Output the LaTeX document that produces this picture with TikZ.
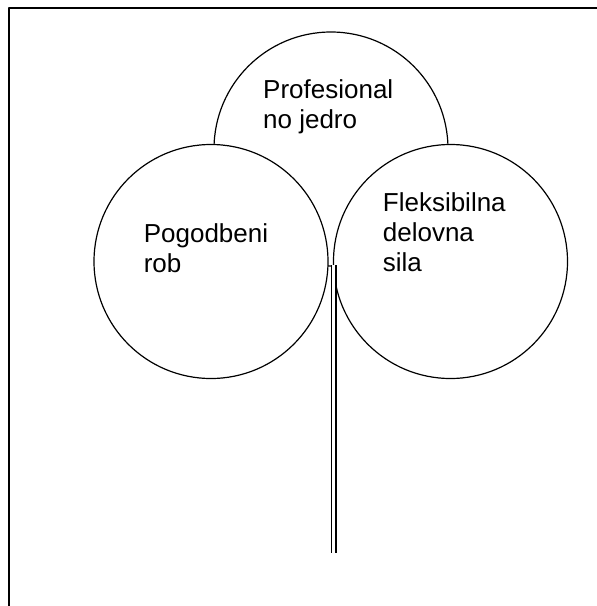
\documentclass[tikz,border=0pt]{standalone}
\usepackage{fontspec}
\setmainfont{Liberation Sans}
\usetikzlibrary{positioning}
\tikzset{
	leaf/.style={draw, circle, fill=white, line width=1.2pt, minimum size=234pt, inner sep=0pt},
	leaftext/.style={anchor=base west, align=left, inner sep=0pt, font=\fontsize{26}{30}\selectfont},
}

\begin{document}
\begin{tikzpicture}[x=1pt,y=-1pt,line join=round]
		\useasboundingbox (0,0) rectangle (597,606);
		\begin{scope}
		\draw[line width=1.8pt] (9.3,606) -- (9.3,7.7) -- (597,7.7);
		\node[leaf] (jedro) at (331,149) {};
		\node[leaf] (rob)   at (211,261.5) {};
		\node[leaf] (sila)  at (450.5,261.5) {};
		\coordinate (stemtop) at (333.8,265);
		\coordinate (stembot) at (333.8,553);
		\draw[double, double distance=3.3pt, line width=1.3pt] (stemtop) -- (stembot);
		\node[leaftext] (jedrotext) at (263,128.3)   {Profesional\\no jedro};
		\node[leaftext] (robtext)   at (143.6,272)   {Pogodbeni\\rob};
		\node[leaftext] (silatext)  at (382.7,271.7) {Fleksibilna\\delovna\\sila};
		\end{scope}
	\end{tikzpicture}
\end{document}
